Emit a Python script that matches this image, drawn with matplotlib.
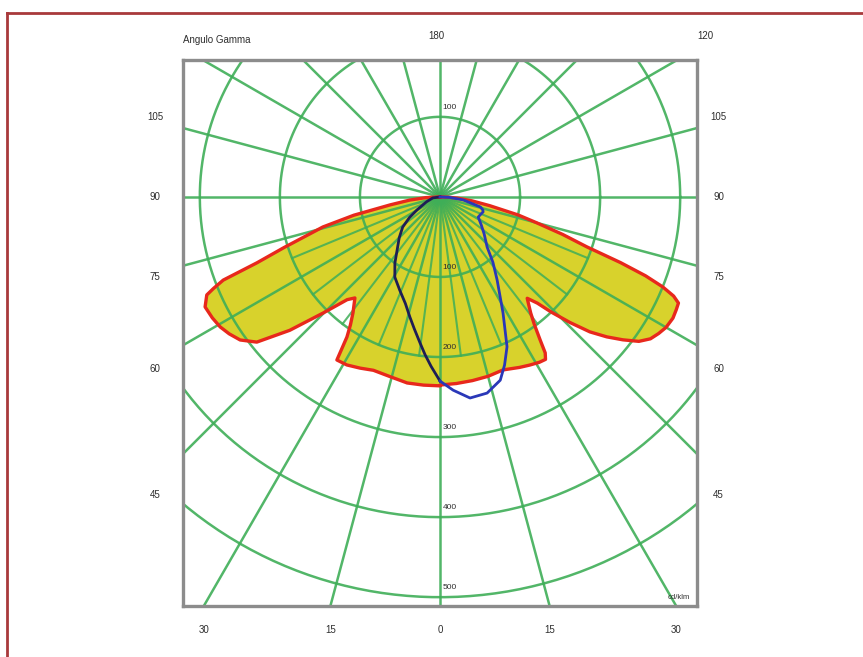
import numpy as np
import matplotlib
matplotlib.use("Agg")
import matplotlib.pyplot as plt
from matplotlib.lines import Line2D

plt.rcParams['font.family'] = ['Liberation Sans', 'DejaVu Sans']

# curva C0-C180 (rossa, riempita) : angolo gamma (gradi) -> intensita (cd/klm)
gamma_red_r = [0, 5, 10, 15, 20, 25, 28, 31, 33, 34, 35, 36.5, 38, 40.7, 42.5, 44, 46, 48, 50, 52,
               54, 56, 58, 60, 62.5, 64.5, 66, 67, 68, 69, 70, 71.2, 73, 75, 77, 80, 83, 86, 88, 90]
int_red_r = [235, 234, 233, 232, 230, 235, 238, 241, 242, 235, 218, 198, 184, 167, 180, 200, 226, 252, 272, 290,
             307, 317, 322, 326, 328, 327, 326, 317, 300, 275, 240, 194, 160, 125, 100, 63, 40, 22, 10, 0]
gamma_red_l = [0, 5, 10, 15.5, 21, 25, 29, 32.3, 33.6, 35, 36.9, 40.1, 42.1, 45.2, 48.4, 51.6, 54.4, 57,
               59.4, 62, 64.9, 67.2, 68, 69, 70.2, 72, 75.6, 78, 80.9, 84, 87, 90]
int_red_l = [236, 236, 236, 233, 232, 236, 240, 241, 210, 195, 181, 165, 173, 206, 251, 292, 307, 314,
             319, 322, 324, 316, 305, 290, 243, 205, 151, 110, 63, 38, 18, 0]

# curva C90-C270 (blu)
gamma_blue_r = [0, 3.9, 8.5, 13.5, 18.2, 21, 24.1, 28.5, 34.5, 39, 43.2, 50, 56, 62.2, 66, 70.8, 73, 76, 82.6, 87, 90]
int_blue_r = [230, 242, 254, 252, 241, 225, 205, 165, 126, 105, 86, 72, 62, 54, 55, 57, 56, 52, 29, 12, 0]
gamma_blue_l = [0, 3, 5.4, 7.8, 11, 14, 18, 23.3, 29.4, 34.3, 39, 45, 51, 56, 60.5, 70, 82, 90]
int_blue_l = [230, 212, 198, 184, 168, 155, 140, 127, 115, 100, 85, 72, 60, 46, 33, 18, 9, 0]

radii = [100, 200, 300, 400, 500]
spoke_angles = np.arange(0, 360, 15)
side_labels = [45, 60, 75, 90, 105]
bottom_labels = [30, 15, 0, 15, 30]
bottom_signs = [-1, -1, 0, 1, 1]

grid_col = '#3fae58'
txt_col = '#2e2e2e'


def polar_xy(g, r, side):
    g = np.radians(np.asarray(g, dtype=float))
    r = np.asarray(r, dtype=float)
    return side * r * np.sin(g), -r * np.cos(g)


fig = plt.figure(figsize=(8.63, 6.57), dpi=100)
ax = fig.add_axes([183 / 863, 1 - 606 / 657, 514 / 863, 546 / 657])
ax.set_xlim(-321, 321)
ax.set_ylim(-511, 171)
ax.set_aspect('auto')
ax.set_xticks([])
ax.set_yticks([])
for s in ax.spines.values():
    s.set_color('#8c8c8c')
    s.set_linewidth(2.4)

# riempimento curva rossa
xl, yl = polar_xy(gamma_red_l[::-1], int_red_l[::-1], -1)
xr, yr = polar_xy(gamma_red_r, int_red_r, 1)
xs = np.concatenate([xl, xr])
ys = np.concatenate([yl, yr])
ax.fill(xs, ys, color='#d8d22c', zorder=1, lw=0)

# griglia polare
t = np.linspace(0, 2 * np.pi, 400)
for r in radii:
    ax.plot(r * np.cos(t), r * np.sin(t), color=grid_col, lw=1.8, zorder=2, alpha=0.9)
for a in spoke_angles:
    ax.plot([0, 900 * np.sin(np.radians(a))], [0, -900 * np.cos(np.radians(a))],
            color=grid_col, lw=1.8, zorder=2, alpha=0.9)
# raggi intermedi nella meta inferiore
for a in np.arange(-67.5, 70, 7.5):
    if a % 15:
        ax.plot([0, 200 * np.sin(np.radians(a))], [0, -200 * np.cos(np.radians(a))],
                color=grid_col, lw=1.5, zorder=2, alpha=0.85)

ax.plot(xs, ys, color='#e8281c', lw=2.4, zorder=3)
xb, yb = polar_xy(gamma_blue_l, int_blue_l, -1)
ax.plot(xb, yb, color='#1e1e55', lw=2, zorder=4)
xb, yb = polar_xy(gamma_blue_r, int_blue_r, 1)
ax.plot(xb, yb, color='#2a38b8', lw=2, zorder=4)

# etichette radiali
ax.text(12, 100 + 12, '100', fontsize=6, color=txt_col, ha='center', va='center', zorder=5)
for r in radii:
    ax.text(12, -r + 12, str(r), fontsize=6, color=txt_col, ha='center', va='center', zorder=5)
ax.text(312, -500, 'cd/klm', fontsize=5.5, color=txt_col, ha='right', va='center', zorder=5)

# etichette angolari
for g in side_labels:
    y = -372 / np.tan(np.radians(g))
    ax.text(-356, y, str(g), fontsize=7, color=txt_col, ha='center', va='center', clip_on=False)
    ax.text(348, y, str(g), fontsize=7, color=txt_col, ha='center', va='center', clip_on=False)
for g, sg in zip(bottom_labels, bottom_signs):
    x = sg * 511 * np.tan(np.radians(g))
    ax.text(x, -541, str(g), fontsize=7, color=txt_col, ha='center', va='center', clip_on=False)
ax.text(-4, 201, '180', fontsize=7, color=txt_col, ha='center', va='center', clip_on=False)
ax.text(331, 201, '120', fontsize=7, color=txt_col, ha='center', va='center', clip_on=False)
ax.text(-321, 196, 'Angulo Gamma', fontsize=7, color=txt_col, ha='left', va='center', clip_on=False)

# cornice esterna
fig.add_artist(Line2D([7 / 863, 7 / 863], [0, 1 - 13 / 657], color='#a8393b', lw=2))
fig.add_artist(Line2D([7 / 863, 1], [1 - 13 / 657, 1 - 13 / 657], color='#a8393b', lw=2))

fig.savefig('out.png', dpi=100, facecolor='white')
